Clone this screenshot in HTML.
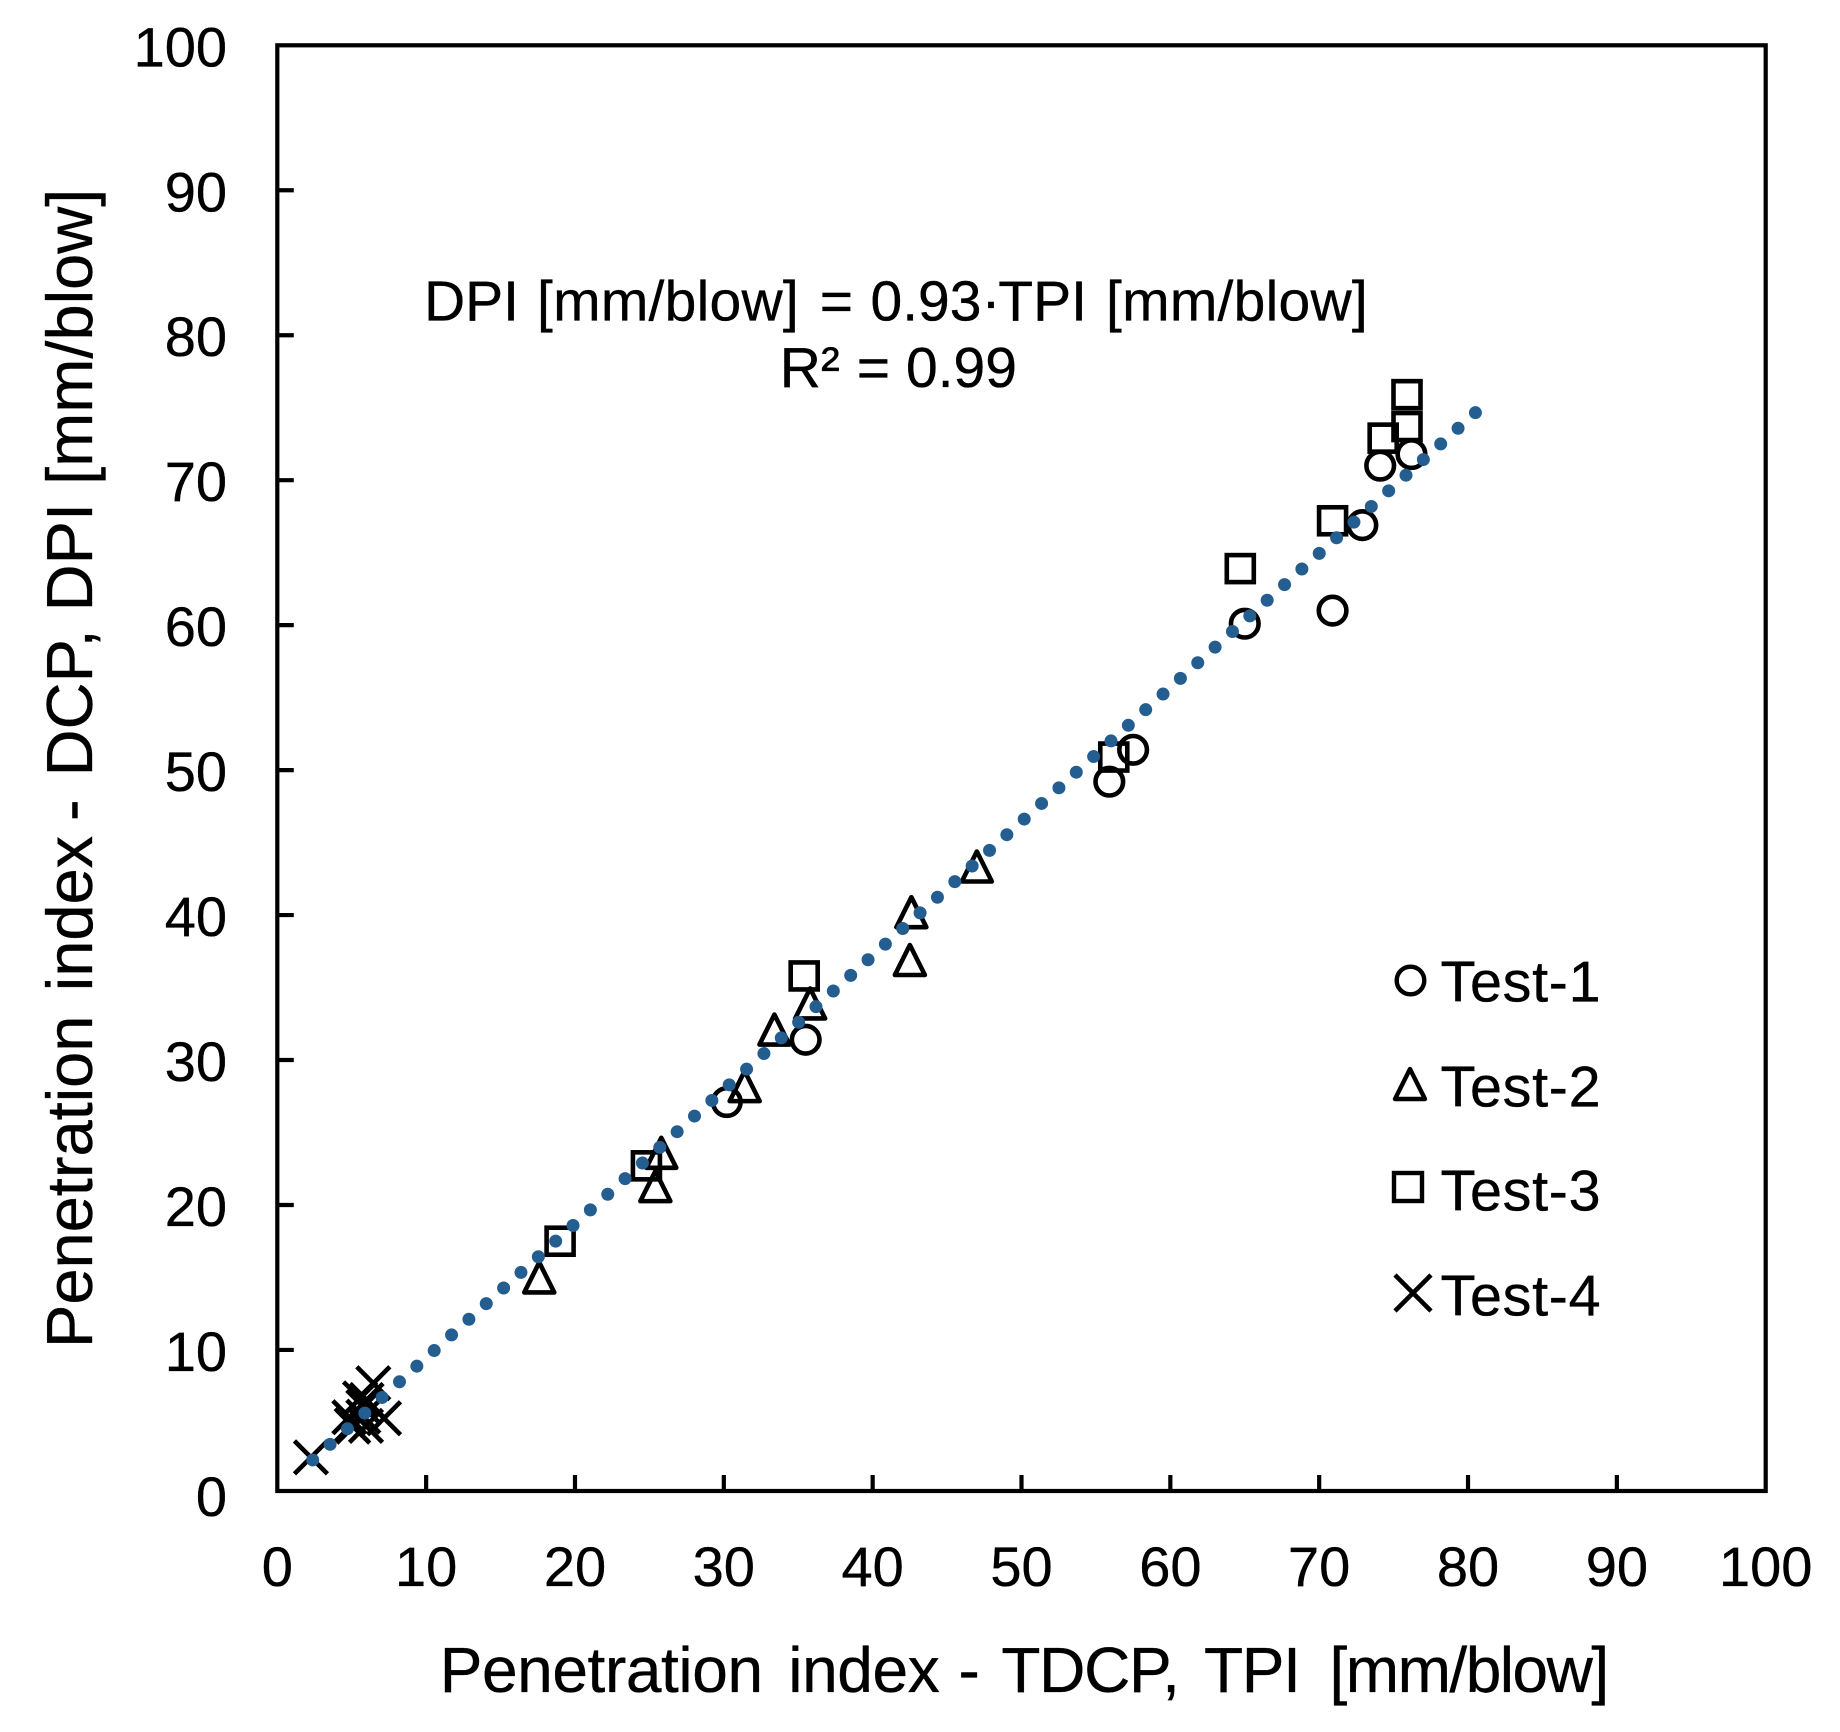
<!DOCTYPE html>
<html lang="en">
<head>
<meta charset="utf-8">
<title>Penetration index TDCP vs DCP</title>
<style>
html,body{margin:0;padding:0;background:#fff;}
svg{display:block;}
text{font-family:"Liberation Sans",Arial,sans-serif;fill:#000;stroke:#000;stroke-width:.35px;}
</style>
</head>
<body>
<svg id="chart" xmlns="http://www.w3.org/2000/svg" width="1840" height="1732" viewBox="0 0 1840 1732">
  <rect x="0" y="0" width="1840" height="1732" fill="#fff"/>
  <rect x="277.3" y="45.3" width="1488.4" height="1445.7" fill="none" stroke="#000" stroke-width="4.2"/>
  <g id="ticks"></g>
  <g id="x-labels" font-size="56" text-anchor="middle"></g>
  <g id="y-labels" font-size="56" text-anchor="end"></g>
  <g id="markers"></g>
  <g id="trend"></g>
  <text y="1692" font-size="64"><tspan x="439.7" letter-spacing="-0.4">Penetration</tspan> <tspan x="788.3" letter-spacing="-0.4">index</tspan> <tspan x="958.5">-</tspan> <tspan x="1001.4" letter-spacing="-1.3">TDCP,</tspan> <tspan x="1204" letter-spacing="-1.3">TPI</tspan> <tspan x="1329.5" letter-spacing="-1.5">[mm/blow]</tspan></text>
  <text transform="translate(92,1732) rotate(-90)" font-size="65"><tspan x="384">Penetration</tspan> <tspan x="740.8">index</tspan> <tspan x="911">-</tspan> <tspan x="955.7">DCP, DPI [mm/blow]</tspan></text>
  <text y="320.5" font-size="57"><tspan x="424">DPI</tspan> <tspan x="537" letter-spacing="0.25">[mm/blow]</tspan> <tspan x="819.8">=</tspan> <tspan x="870.5">0.93·</tspan><tspan x="998.3">TPI</tspan> <tspan x="1106" letter-spacing="0.25">[mm/blow]</tspan></text>
  <text y="387" font-size="57"><tspan x="779.7">R²</tspan> <tspan x="856.8">=</tspan> <tspan x="906">0.99</tspan></text>
  <g id="legend" letter-spacing="0.7">
    <g>
      <circle cx="1410.5" cy="980.5" r="13.8" fill="none" stroke="#000" stroke-width="4.4"/>
      <text x="1440.5" y="1001.5" font-size="57.5">Test-1</text>
    </g>
    <g>
      <path d="M1410 1069 L1395 1099 L1425 1099 Z" fill="none" stroke="#000" stroke-width="4.4" stroke-linejoin="round"/>
      <text x="1440.5" y="1106.5" font-size="57.5">Test-2</text>
    </g>
    <g>
      <rect x="1394" y="1173" width="28" height="28" fill="none" stroke="#000" stroke-width="4.4"/>
      <text x="1440.5" y="1210.5" font-size="57.5">Test-3</text>
    </g>
    <g>
      <path d="M1395 1275 L1431 1311 M1431 1275 L1395 1311" fill="none" stroke="#000" stroke-width="4.6"/>
      <text x="1440.5" y="1315.5" font-size="57.5">Test-4</text>
    </g>
  </g>
</svg>
<script>
const xTickLabels = [0,10,20,30,40,50,60,70,80,90,100];
const yTickLabels = [0,10,20,30,40,50,60,70,80,90,100];

const test1X = [30.2,35.5,55.9,57.5,65.0,70.9,72.9,74.1,76.2];
const test1Y = [27.1,31.4,49.2,51.4,60.1,61.0,66.9,71.0,71.8];

const test2X = [17.6,25.4,25.8,31.4,33.4,35.8,42.6,42.5,47.0];
const test2Y = [15.0,21.3,23.6,28.2,32.1,33.9,40.2,36.9,43.35];

const test3X = [19.0,24.8,35.4,56.2,64.7,70.9,74.3,75.9,75.9];
const test3Y = [17.5,22.7,35.8,50.9,63.9,67.2,72.9,73.7,75.9];

const test4X = [2.26,6.45,5.56,4.84,7.17,5.0,5.96,5.1,5.78,6.0,5.78];
const test4Y = [2.59,7.7,6.66,5.36,5.29,4.82,4.76,4.71,6.08,6.55,5.4];

const trendX = [2.38,80.5];
const trendY = [2.41,74.66];

const SVG_NS = 'http://www.w3.org/2000/svg';
const PLOT_LEFT = 277.3, PLOT_RIGHT = 1765.7, PLOT_BOTTOM = 1491, Y_TOP = 45.3, Y_ZERO = 1494.9;
const TREND_DOT_GAPS = 67;
function xScale(v){ return PLOT_LEFT + (v/100)*(PLOT_RIGHT-PLOT_LEFT); }
function yScale(v){ return Y_ZERO - (v/100)*(Y_ZERO-Y_TOP); }
function make(tag, attrs){
  const el = document.createElementNS(SVG_NS, tag);
  for (const k in attrs) el.setAttribute(k, attrs[k]);
  return el;
}

const ticksG = document.getElementById('ticks');
const xLabG = document.getElementById('x-labels');
const yLabG = document.getElementById('y-labels');

xTickLabels.forEach(function(v){
  const t = make('text', {x: xScale(v), y: 1586});
  
  
  t.textContent = v;
  xLabG.appendChild(t);
  if (v > 0 && v < 100) {
    const l = make('line', {x1: xScale(v), x2: xScale(v), y1: PLOT_BOTTOM, y2: PLOT_BOTTOM-16, stroke: '#000', 'stroke-width': 4.2});
    
    
    ticksG.appendChild(l);
  }
});

yTickLabels.forEach(function(v){
  const t = make('text', {x: 227, y: yScale(v)+21});
  
  
  t.textContent = v;
  yLabG.appendChild(t);
  if (v > 0 && v < 100) {
    const l = make('line', {x1: PLOT_LEFT, x2: PLOT_LEFT+16.5, y1: yScale(v), y2: yScale(v), stroke: '#000', 'stroke-width': 4.2});
    
    
    ticksG.appendChild(l);
  }
});

const markersG = document.getElementById('markers');
const stroke = {fill: 'none', stroke: '#000', 'stroke-width': 4.6};

test1X.forEach(function(x, i){
  const c = make('circle', Object.assign({cx: xScale(x), cy: yScale(test1Y[i]), r: 13.8}, stroke));
  
  
  markersG.appendChild(c);
});

test2X.forEach(function(x, i){
  const px = xScale(x), py = yScale(test2Y[i]);
  const p = make('path', Object.assign({d: 'M'+px+' '+(py-15)+' L'+(px-15)+' '+(py+15)+' L'+(px+15)+' '+(py+15)+' Z', 'stroke-linejoin': 'round'}, stroke));
  
  
  markersG.appendChild(p);
});

test3X.forEach(function(x, i){
  const px = xScale(x), py = yScale(test3Y[i]);
  const r = make('rect', Object.assign({x: px-13.5, y: py-13.5, width: 27, height: 27}, stroke));
  
  
  markersG.appendChild(r);
});

test4X.forEach(function(x, i){
  const px = xScale(x), py = yScale(test4Y[i]), a = 16.5;
  const p = make('path', Object.assign({d: 'M'+(px-a)+' '+(py-a)+' L'+(px+a)+' '+(py+a)+' M'+(px+a)+' '+(py-a)+' L'+(px-a)+' '+(py+a)}, stroke));
  
  
  markersG.appendChild(p);
});

const tx1 = xScale(trendX[0]), ty1 = yScale(trendY[0]);
const tx2 = xScale(trendX[1]), ty2 = yScale(trendY[1]);
const trendLength = Math.hypot(tx2-tx1, ty2-ty1);
const trendLine = make('line', {
  x1: tx1, y1: ty1, x2: tx2, y2: ty2,
  stroke: '#245E91', 'stroke-width': 13, 'stroke-linecap': 'round',
  'stroke-dasharray': '0 ' + (trendLength/TREND_DOT_GAPS - 0.001)
});


document.getElementById('trend').appendChild(trendLine);
</script>
</body>
</html>
